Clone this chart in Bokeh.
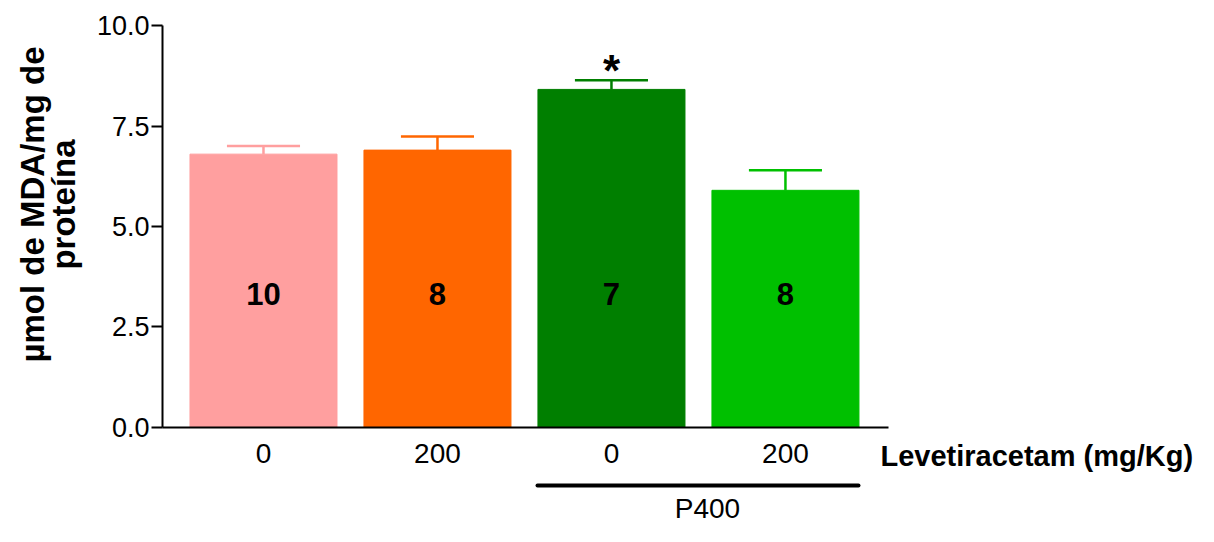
import math
from bokeh.plotting import figure
from bokeh.models import Range1d, FixedTicker, PrintfTickFormatter, LinearAxis, ColumnDataSource
from bokeh.embed import file_html
from bokeh.resources import INLINE
from bokeh.core.properties import value

# ---- data ----
doses = ["0", "200", "0", "200"]
means = [6.80, 6.90, 8.41, 5.90]
sem_upper = [7.00, 7.24, 8.64, 6.40]
n_labels = ["10", "8", "7", "8"]
colors = ["#FF9F9F", "#FF6600", "#007F00", "#00C000"]
star_flags = [False, False, True, False]
y_ticks = [0, 2.5, 5, 7.5, 10]
group_label = "P400"
group_members = [2, 3]
x_title = "Levetiracetam (mg/Kg)"
y_title = "\u00b5mol de MDA/mg de\nprote\u00edna"

# ---- layout / style ----
FONT = "Liberation Sans"
BAR_W = 0.845
CAP_W = 0.42
N_Y = 3.33                     # n labels baseline (data units)
X_LO, X_AXIS_LO, X_AXIS_HI, X_HI = -1.5115, -0.5805, 3.592, 5.374
Y_LO, Y_AXIS_HI, Y_HI = -2.463, 10.0, 10.622
GROUP_LINE_Y = -1.443
GROUP_TEXT_Y = -2.015
XTITLE_X, XTITLE_Y = 3.546, -0.70
YTITLE_X, YTITLE_Y = -1.240, 5.547

xs = list(range(len(doses)))

p = figure(width=1198, height=526,
           x_range=Range1d(X_LO, X_HI), y_range=Range1d(Y_LO, Y_HI),
           output_backend="svg", toolbar_location=None,
           min_border_left=0, min_border_right=0,
           min_border_top=0, min_border_bottom=0)
p.grid.visible = False
p.outline_line_color = None
p.background_fill_color = "white"
p.border_fill_color = "white"

src = ColumnDataSource(dict(
    x=xs, top=means, up=sem_upper, color=colors, n=n_labels,
    x0=[x - CAP_W / 2 for x in xs], x1=[x + CAP_W / 2 for x in xs],
))

p.vbar(x="x", top="top", bottom=0, width=BAR_W, source=src,
       fill_color="color", line_color="color", line_width=1)
p.segment(x0="x", y0="top", x1="x", y1="up", source=src, line_color="color", line_width=2.5)
p.segment(x0="x0", y0="up", x1="x1", y1="up", source=src, line_color="color", line_width=2.5)

p.text(x="x", y=N_Y, text="n", source=src,
       text_font=value(FONT), text_font_style="bold", text_font_size="31px",
       text_align="center", text_baseline="alphabetic", text_color="black")

star_x = [x for x, f in zip(xs, star_flags) if f]
star_y = [u for u, f in zip(sem_upper, star_flags) if f]
p.text(x=star_x, y=star_y, text=["*"] * len(star_x), y_offset=-10,
       text_font=value(FONT), text_font_style="bold", text_font_size="44px",
       text_align="center", text_baseline="alphabetic", text_color="black")

# y axis, fixed at left end of the x axis
ya = p.yaxis[0]
ya.fixed_location = X_AXIS_LO
ya.bounds = (0, Y_AXIS_HI)
ya.ticker = FixedTicker(ticks=y_ticks)
ya.formatter = PrintfTickFormatter(format="%.1f")
ya.minor_tick_line_color = None
ya.major_tick_in = 0
ya.major_tick_out = 11
ya.major_tick_line_width = 2
ya.axis_line_width = 2
ya.major_label_standoff = 2
ya.major_label_text_font = FONT
ya.major_label_text_font_size = "27px"
ya.major_label_text_color = "black"

p.text(x=[YTITLE_X], y=[YTITLE_Y], text=[y_title], angle=math.pi / 2,
       text_font=value(FONT), text_font_style="bold", text_font_size="33px",
       text_line_height=0.85, text_align="center", text_baseline="middle",
       text_color="black")

# x axis (doses) fixed at y = 0
xa = p.xaxis[0]
xa.fixed_location = 0
xa.bounds = (X_AXIS_LO, X_AXIS_HI)
xa.ticker = FixedTicker(ticks=xs)
xa.major_label_overrides = {x: d for x, d in zip(xs, doses)}
xa.major_tick_line_color = None
xa.major_tick_out = 0
xa.major_tick_in = 0
xa.minor_tick_line_color = None
xa.axis_line_width = 2
xa.major_label_standoff = 17
xa.major_label_text_font = FONT
xa.major_label_text_font_size = "28px"
xa.major_label_text_color = "black"

# group bar (P400) as a bounded axis line
g0 = min(group_members) - BAR_W / 2
g1 = max(group_members) + BAR_W / 2
ga = LinearAxis(fixed_location=GROUP_LINE_Y, bounds=(g0, g1), ticker=FixedTicker(ticks=[]),
                axis_line_width=4, axis_line_cap="round",
                major_tick_line_color=None, minor_tick_line_color=None,
                major_label_text_font_size="0px")
p.add_layout(ga, "below")

p.text(x=[(g0 + g1) / 2], y=[GROUP_TEXT_Y], text=[group_label], x_offset=9,
       text_font=value(FONT), text_font_size="28px", text_align="center",
       text_baseline="middle", text_color="black")

p.text(x=[XTITLE_X], y=[XTITLE_Y], text=[x_title],
       text_font=value(FONT), text_font_style="bold", text_font_size="29px",
       text_align="left", text_baseline="middle", text_color="black")

open("out.html", "w").write(file_html(p, INLINE))
